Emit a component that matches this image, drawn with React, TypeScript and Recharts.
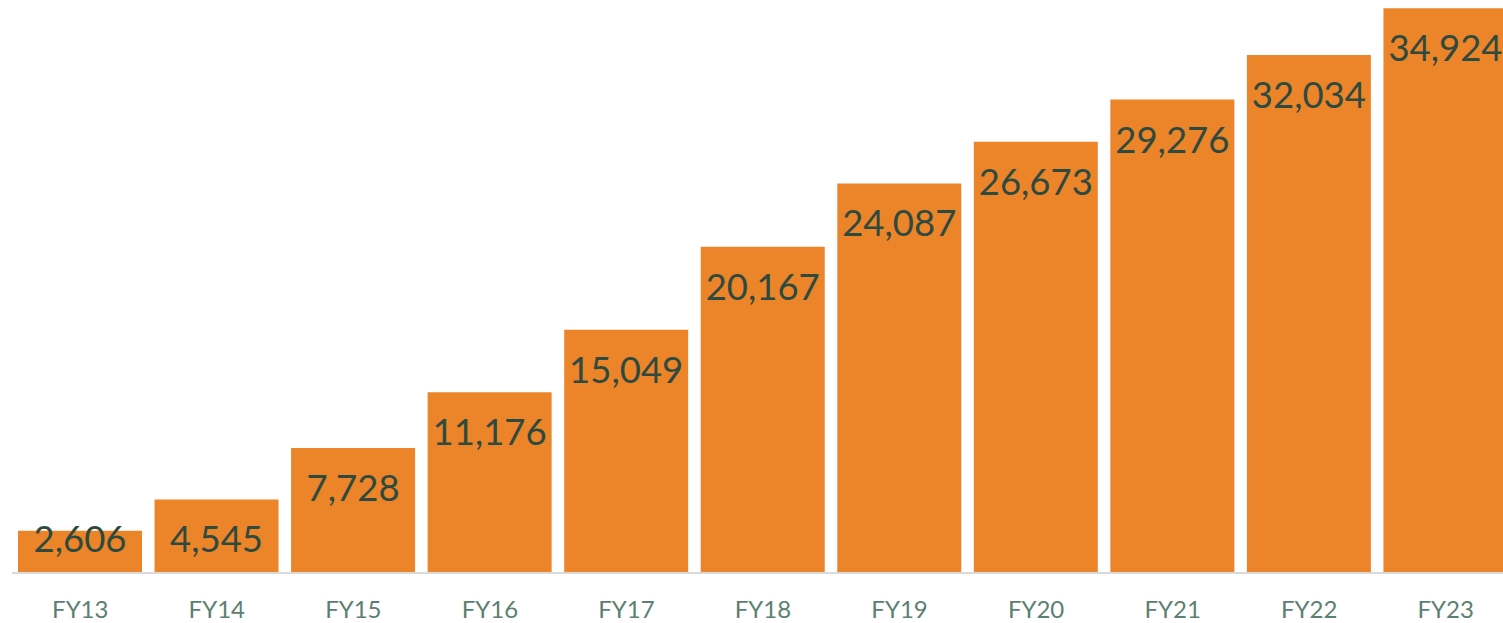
import { BarChart, Bar, XAxis, YAxis, LabelList } from 'recharts';

const years = ['FY13', 'FY14', 'FY15', 'FY16', 'FY17', 'FY18', 'FY19', 'FY20', 'FY21', 'FY22', 'FY23'];
const totals = [2606, 4545, 7728, 11176, 15049, 20167, 24087, 26673, 29276, 32034, 34924];

const data = years.map((year, i) => ({ year, total: totals[i] }));

const FONT = 'Lato, "Open Sans", sans-serif';

const ValueLabel = (props: any) => {
  const { x, y, width, height, value } = props;
  const bottom = y + height;
  const baseline = Math.min(y + 53, bottom - 21);
  return (
    <text
      x={x + width / 2}
      y={baseline}
      textAnchor="middle"
      fill="#2e4a3f"
      fontSize={36.5}
      fontFamily={FONT}
    >
      {Number(value).toLocaleString('en-US')}
    </text>
  );
};

const YearTick = (props: any) => {
  const { x, y, payload } = props;
  return (
    <text x={x} y={y + 37} textAnchor="middle" fill="#5b8070" fontSize={24} fontFamily={FONT}>
      {payload.value}
    </text>
  );
};

const App = () => (
  <div style={{ position: 'absolute', left: 0, top: 0, width: 1503, height: 623, overflow: 'hidden', background: '#fff' }}>
    <BarChart width={1514} height={623} data={data} margin={{ top: 7, right: 0, left: 12, bottom: 20 }} barSize={124}>
      <XAxis
        dataKey="year"
        height={30}
        axisLine={{ stroke: '#d9d9d9', strokeWidth: 2 }}
        tickLine={false}
        tick={<YearTick />}
        interval={0}
      />
      <YAxis hide domain={[0, 35000]} />
      <Bar dataKey="total" fill="#ec8429" isAnimationActive={false}>
        <LabelList dataKey="total" content={<ValueLabel />} />
      </Bar>
    </BarChart>
  </div>
);

export default App;
